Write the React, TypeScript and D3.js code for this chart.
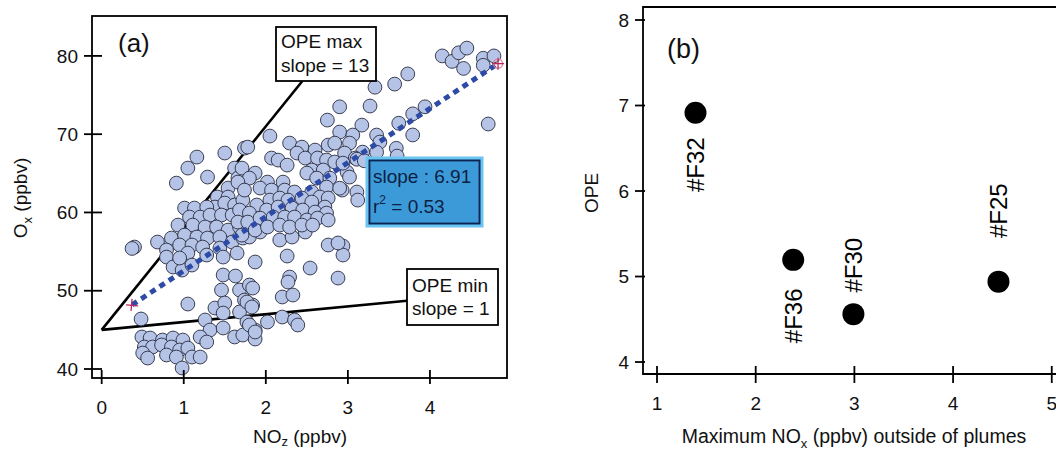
import React from 'react';
import * as d3 from 'd3';

// ---------- Panel (a) data: NOz (ppbv) vs Ox (ppbv) ----------
const nozValues = [
  1.16,1.50,1.74,1.05,1.29,0.91,1.62,1.66,1.54,1.41,1.54,1.38,1.50,1.62,1.01,1.13,1.28,1.72,1.07,1.20,
  1.32,1.46,1.59,1.72,0.93,1.11,1.26,1.40,1.54,1.68,0.85,0.68,1.01,1.16,1.29,1.44,1.59,0.40,0.95,1.10,
  1.23,1.44,1.72,0.79,1.05,1.28,1.65,
  0.37,0.79,0.87,0.98,1.10,0.95,1.48,1.87,1.48,1.63,1.46,1.68,1.80,1.05,1.38,1.50,1.48,1.74,1.84,1.68,
  0.48,1.26,1.32,1.48,1.77,1.62,1.72,1.87,1.87,1.20,1.28,0.49,0.59,0.74,0.87,0.99,0.52,0.62,0.73,0.85,
  0.95,1.05,0.50,0.56,0.79,0.91,1.10,1.20,0.98,
  1.80,1.93,2.17,2.32,2.48,2.76,2.94,2.94,2.26,2.54,2.29,2.27,2.88,1.84,2.20,2.33,1.77,1.83,2.02,2.20,
  2.35,2.39,1.80,1.87,
  2.75,2.90,3.17,3.06,3.35,3.39,2.05,1.78,2.29,2.44,2.60,2.76,2.84,3.02,3.18,2.96,3.09,2.07,2.15,2.38,
  2.48,2.63,2.74,2.84,2.26,2.56,2.70,2.99,3.02,1.71,1.87,1.80,2.02,2.21,2.50,2.62,2.78,2.74,2.93,3.11,
  3.12,1.66,1.74,1.93,2.07,2.23,2.35,2.56,2.66,2.76,1.89,2.05,2.17,2.27,2.44,2.56,2.72,1.68,1.80,2.01,
  2.15,2.32,2.45,2.60,2.74,1.66,1.78,1.93,2.09,2.23,2.35,2.50,2.63,2.76,1.87,2.02,2.17,2.29,2.44,2.57,
  1.71,2.88,
  4.15,4.27,4.35,4.45,4.41,4.65,4.65,4.78,4.71,3.73,3.57,3.33,3.27,2.90,3.94,3.79,3.62,3.79,3.35,3.11,
  3.59,3.60,3.20,2.94,2.90
];
const oxValues = [
  67.08,67.59,68.22,65.67,64.52,63.75,65.67,64.39,63.12,61.97,61.97,60.69,61.20,60.95,60.56,60.56,60.69,61.58,59.41,59.41,
  59.67,59.67,59.67,59.92,58.39,58.39,58.14,58.14,57.75,58.14,56.73,56.22,57.11,56.86,56.73,56.86,56.22,55.58,55.84,55.84,
  55.58,55.45,56.73,55.20,54.81,54.56,54.81,
  55.40,54.30,53.03,52.64,53.28,54.18,54.30,53.67,52.01,51.88,50.09,50.09,50.73,48.30,47.79,48.43,47.15,48.81,48.17,47.28,
  46.39,46.26,44.98,45.24,46.00,44.09,44.34,44.98,43.83,44.09,43.45,44.09,43.96,43.70,43.96,43.70,42.81,42.81,43.07,42.81,
  42.43,42.68,42.04,41.40,41.79,41.53,41.53,41.53,40.13,
  56.86,57.50,56.48,56.86,57.50,55.84,55.71,54.56,54.43,52.90,51.75,51.11,51.62,50.34,49.20,49.45,48.56,47.92,46.00,46.64,
  46.26,45.62,45.62,44.73,
  71.80,70.27,71.16,69.89,69.89,68.99,69.76,68.35,68.86,68.35,67.97,68.61,68.86,68.86,67.71,67.59,66.95,66.95,66.69,67.59,
  66.95,66.95,66.69,66.44,66.05,65.42,65.42,65.16,64.52,65.67,65.03,64.39,63.88,63.88,65.03,64.39,64.39,63.24,62.86,62.61,
  61.58,63.88,62.86,63.12,62.86,62.86,62.61,62.61,61.97,61.84,60.95,61.58,61.84,61.58,61.84,61.33,60.69,60.31,59.92,60.31,
  60.69,60.56,60.31,60.05,59.92,58.77,58.77,59.28,59.41,59.41,59.41,59.03,59.28,59.03,57.75,58.14,58.39,58.14,58.39,58.39,
  57.11,56.10,
  80.0,79.3,80.4,81.0,78.4,79.7,78.8,80.0,71.3,77.7,76.4,76.0,73.6,73.5,73.5,72.6,71.4,69.9,67.7,66.8,
  68.2,67.2,66.6,66.3,63.1
];

const aXTicks = [0, 1, 2, 3, 4];
const aYTicks = [40, 50, 60, 70, 80];

// OPE bounding lines (origin at NOz = 0, Ox = 45)
const opeOrigin = 45;
const opeMaxSlope = 13;
const opeMinSlope = 1;

// Regression fit
const fitSlope = 6.91;
const fitR2 = 0.53;
const fitIntercept = 45.64;
const fitXRange = [0.37, 4.83];

// ---------- Panel (b) data ----------
const flights = ['#F32', '#F36', '#F30', '#F25'];
const maxNox = [1.39, 2.38, 2.99, 4.46];
const opeValues = [6.915, 5.195, 4.56, 4.94];
const bXTicks = [1, 2, 3, 4, 5];
const bYTicks = [4, 5, 6, 7, 8];

// label placement (layout, not data)
const labelOffsets = [52, 56, -49, -71];

const FONT = '"Liberation Sans", Arial, Helvetica, sans-serif';

export default function App() {
  const W = 1056, H = 450;

  const xA = d3.scaleLinear().domain([-0.118, 4.939]).range([92, 507]);
  const yA = d3.scaleLinear().domain([38.85, 85.1]).range([378, 16]);

  const xB = d3.scaleLinear().domain([0.858, 5.2]).range([643, 1071.5]);
  const yB = d3.scaleLinear().domain([3.86, 8.152]).range([374, 7]);

  const pts = nozValues.map((x, i) => ({ x, y: oxValues[i] }));

  const maxBox = { x: 276, y: 27, w: 100, h: 54 };
  const minBox = { x: 407, y: 269, w: 91, h: 56 };
  const statBox = { x: 367, y: 158, w: 115, h: 68 };

  const maxEndX = (yA.invert(maxBox.y + maxBox.h) - opeOrigin) / opeMaxSlope;
  const minEndX = xA.invert(minBox.x);

  const line = d3.line<[number, number]>().x(d => xA(d[0])).y(d => yA(d[1]));
  const maxPath = line([[0, opeOrigin], [maxEndX, opeOrigin + opeMaxSlope * maxEndX]]);
  const minPath = line([[0, opeOrigin], [minEndX, opeOrigin + opeMinSlope * minEndX]]);
  const fitPath = line(fitXRange.map(x => [x, fitIntercept + fitSlope * x] as [number, number]));
  const fitStart = [xA(fitXRange[0]), yA(fitIntercept + fitSlope * fitXRange[0])];
  const fitEnd = [xA(fitXRange[1]), yA(fitIntercept + fitSlope * fitXRange[1])];

  const fs = 19;

  return (
    <svg width={W} height={H} style={{ position: 'absolute', left: 0, top: 0, background: '#fff' }}
      fontFamily={FONT}>
      <rect x={0} y={0} width={W} height={H} fill="#fff" />
      {/* ---------------- Panel (a) ---------------- */}
      <path d={maxPath || ''} stroke="#000" strokeWidth={2.6} fill="none" />
      <path d={minPath || ''} stroke="#000" strokeWidth={2.6} fill="none" />
      {pts.map((p, i) => (
        <circle key={i} cx={xA(p.x)} cy={yA(p.y)} r={6.9} fill="#b4c3e6" stroke="#2a2d40" strokeWidth={0.9} />
      ))}
      <path d={fitPath || ''} stroke="#2c4aa6" strokeWidth={5} strokeDasharray="6,5" fill="none" />
      <g stroke="#c0285a" strokeWidth={1.3} fill="none">
        <line x1={fitStart[0] - 6} y1={fitStart[1]} x2={fitStart[0] + 6} y2={fitStart[1] + 1} />
        <line x1={fitStart[0]} y1={fitStart[1] - 6} x2={fitStart[0] - 1} y2={fitStart[1] + 6} />
        <circle cx={fitEnd[0]} cy={fitEnd[1]} r={4.5} stroke="#e0809a" />
        <line x1={fitEnd[0] - 6} y1={fitEnd[1]} x2={fitEnd[0] + 6} y2={fitEnd[1]} />
        <line x1={fitEnd[0]} y1={fitEnd[1] - 6} x2={fitEnd[0]} y2={fitEnd[1] + 6} />
      </g>
      <rect x={92} y={16} width={415} height={362} fill="none" stroke="#000" strokeWidth={1.8} />
      {aXTicks.map(t => (
        <g key={'ax' + t}>
          <line x1={xA(t)} x2={xA(t)} y1={370} y2={384} stroke="#000" strokeWidth={1.8} />
          <text x={xA(t)} y={414} fontSize={fs} textAnchor="middle" fill="#111">{t}</text>
        </g>
      ))}
      {aYTicks.map(t => (
        <g key={'ay' + t}>
          <line x1={84} x2={102} y1={yA(t)} y2={yA(t)} stroke="#000" strokeWidth={1.8} />
          <text x={78} y={yA(t)} dy="0.35em" fontSize={fs} textAnchor="end" fill="#111">{t}</text>
        </g>
      ))}
      <text x={300} y={443} fontSize={fs} textAnchor="middle" fill="#111">
        NO<tspan fontSize={13} dy={3}>z</tspan><tspan dy={-3}> (ppbv)</tspan>
      </text>
      <text transform="translate(27,198) rotate(-90)" fontSize={fs} textAnchor="middle" fill="#111">
        O<tspan fontSize={13} dy={5}>x</tspan><tspan dy={-5}> (ppbv)</tspan>
      </text>
      <text x={118} y={52} fontSize={26} fill="#111">(a)</text>
      <rect x={maxBox.x} y={maxBox.y} width={maxBox.w} height={maxBox.h} fill="#fff" stroke="#000" strokeWidth={1.8} />
      <text x={maxBox.x + 5} y={maxBox.y + 21} fontSize={fs} fill="#111">OPE max</text>
      <text x={maxBox.x + 5} y={maxBox.y + 45} fontSize={fs} fill="#111">slope = {opeMaxSlope}</text>
      <rect x={minBox.x} y={minBox.y} width={minBox.w} height={minBox.h} fill="#fff" stroke="#000" strokeWidth={1.8} />
      <text x={minBox.x + 5} y={minBox.y + 23} fontSize={fs} fill="#111">OPE min</text>
      <text x={minBox.x + 5} y={minBox.y + 46} fontSize={fs} fill="#111">slope = {opeMinSlope}</text>
      <rect x={statBox.x} y={statBox.y} width={statBox.w} height={statBox.h} fill="#3d9ad8" stroke="#6cc4f0" strokeWidth={3} />
      <rect x={statBox.x + 2.5} y={statBox.y + 2.5} width={statBox.w - 5} height={statBox.h - 5} fill="none" stroke="#0c2450" strokeWidth={1.8} />
      <text x={statBox.x + 6} y={statBox.y + 25} fontSize={fs} fill="#0b1f45">slope : {fitSlope.toFixed(2)}</text>
      <text x={statBox.x + 6} y={statBox.y + 55} fontSize={fs} fill="#0b1f45">
        r<tspan fontSize={12} dy={-9}>2</tspan><tspan dy={9}> = {fitR2.toFixed(2)}</tspan>
      </text>

      {/* ---------------- Panel (b) ---------------- */}
      <path d={`M1080,${yB(8.152)} H643 V374 H1080`} fill="none" stroke="#000" strokeWidth={1.8} />
      {bXTicks.map(t => (
        <g key={'bx' + t}>
          <line x1={xB(t)} x2={xB(t)} y1={366} y2={383} stroke="#000" strokeWidth={1.8} />
          <text x={xB(t)} y={410} fontSize={fs} textAnchor="middle" fill="#111">{t}</text>
        </g>
      ))}
      {bYTicks.map(t => (
        <g key={'by' + t}>
          <line x1={635} x2={645} y1={yB(t)} y2={yB(t)} stroke="#000" strokeWidth={1.8} />
          <text x={629} y={yB(t)} dy="0.35em" fontSize={fs} textAnchor="end" fill="#111">{t}</text>
        </g>
      ))}
      {flights.map((f, i) => (
        <g key={f}>
          <circle cx={xB(maxNox[i])} cy={yB(opeValues[i])} r={11} fill="#000" />
          <text transform={`translate(${xB(maxNox[i])},${yB(opeValues[i]) + labelOffsets[i]}) rotate(-90)`}
            fontSize={24} textAnchor="middle" dy="0.35em" fill="#000">{f}</text>
        </g>
      ))}
      <text x={854} y={443} fontSize={19.5} textAnchor="middle" fill="#111">
        Maximum NO<tspan fontSize={13} dy={5}>x</tspan><tspan dy={-5}> (ppbv) outside of plumes</tspan>
      </text>
      <text transform="translate(598,193) rotate(-90)" fontSize={fs} textAnchor="middle" fill="#111">OPE</text>
      <text x={667} y={58} fontSize={27} fill="#111">(b)</text>
    </svg>
  );
}
